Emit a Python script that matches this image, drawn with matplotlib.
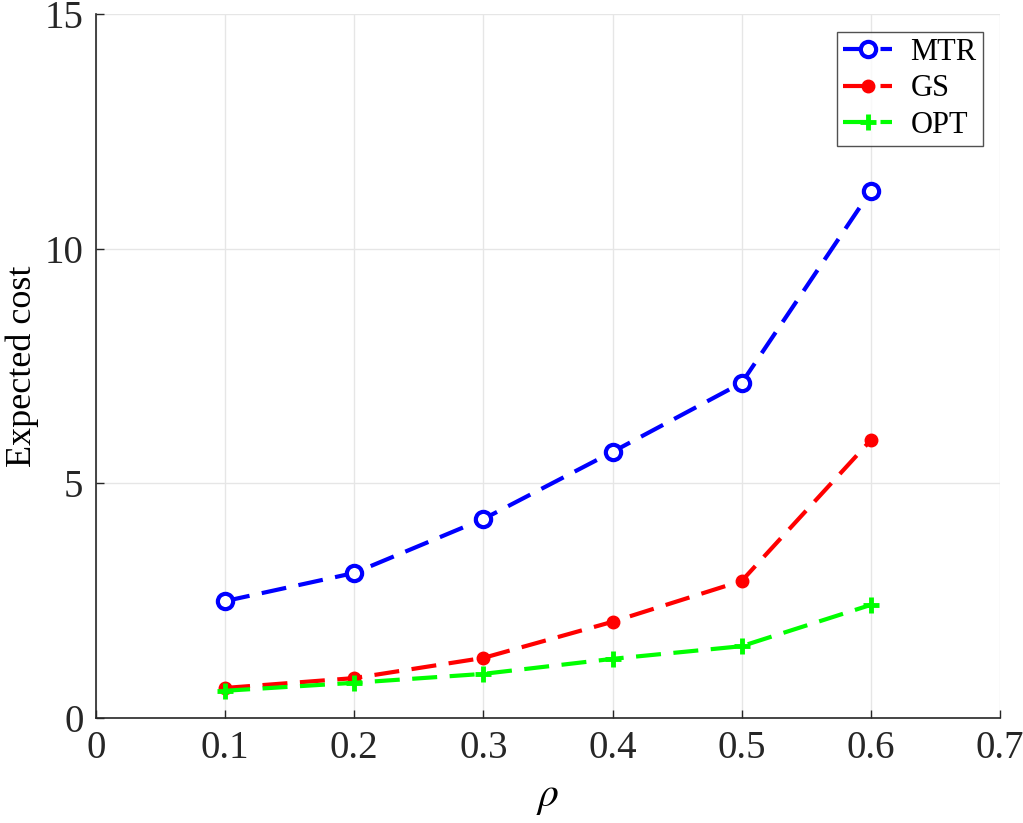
import matplotlib
matplotlib.use("Agg")
import matplotlib.pyplot as plt

rho = [0.1, 0.2, 0.3, 0.4, 0.5, 0.6]
mtr = [2.49, 3.09, 4.24, 5.67, 7.14, 11.23]
gs = [0.64, 0.85, 1.28, 2.05, 2.92, 5.92]
opt = [0.58, 0.75, 0.94, 1.26, 1.53, 2.41]
xticks = [0, 0.1, 0.2, 0.3, 0.4, 0.5, 0.6, 0.7]
xticklabels = ["0", "0.1", "0.2", "0.3", "0.4", "0.5", "0.6", "0.7"]
yticks = [0, 5, 10, 15]

plt.rcParams['font.family'] = ['Liberation Serif', 'DejaVu Serif']
plt.rcParams['mathtext.fontset'] = 'stix'

fig = plt.figure(figsize=(10.23, 8.23), dpi=100)
ax = fig.add_axes([0.0938, 0.1276, 0.8837, 0.8554])

ls = (0, (6, 3))
ax.plot(rho, mtr, linestyle=ls, color='#0000ff', lw=3, marker='o', ms=11,
        mfc='white', mec='#0000ff', mew=3, label='MTR', zorder=3)
ax.plot(rho, gs, linestyle=ls, color='#ff0000', lw=3, marker='o', ms=9,
        mfc='#ff0000', mec='#ff0000', label='GS', zorder=3)
ax.plot(rho, opt, linestyle=ls, color='#00ff00', lw=3, marker='+', ms=12,
        mew=3.5, label='OPT', zorder=3)

ax.set_xlim(0, 0.7)
ax.set_ylim(0, 15)
ax.set_xticks(xticks)
ax.set_xticklabels(xticklabels)
ax.set_yticks(yticks)
ax.tick_params(direction='in', labelsize=28, length=6, width=1, colors='#262626', pad=9)
for lab in ax.get_xticklabels() + ax.get_yticklabels():
    lab.set_color('#262626')
ax.grid(True, color='#e6e6e6', lw=1)
ax.set_axisbelow(True)
for s in ['top', 'right']:
    ax.spines[s].set_visible(False)
for s in ['left', 'bottom']:
    ax.spines[s].set_color('#262626')
    ax.spines[s].set_linewidth(1.2)

ax.set_xlabel(r'$\rho$', fontsize=30, labelpad=8)
ax.set_ylabel('Expected cost', fontsize=26, labelpad=4)

leg = ax.legend(loc='upper right', bbox_to_anchor=(0.991, 0.988), fontsize=22,
                frameon=True, fancybox=False, edgecolor='#262626',
                handlelength=1.6, borderpad=0.2, labelspacing=0.25,
                handletextpad=0.6, borderaxespad=0.3)
leg.get_frame().set_linewidth(1.0)

fig.savefig('out.png', dpi=100)
